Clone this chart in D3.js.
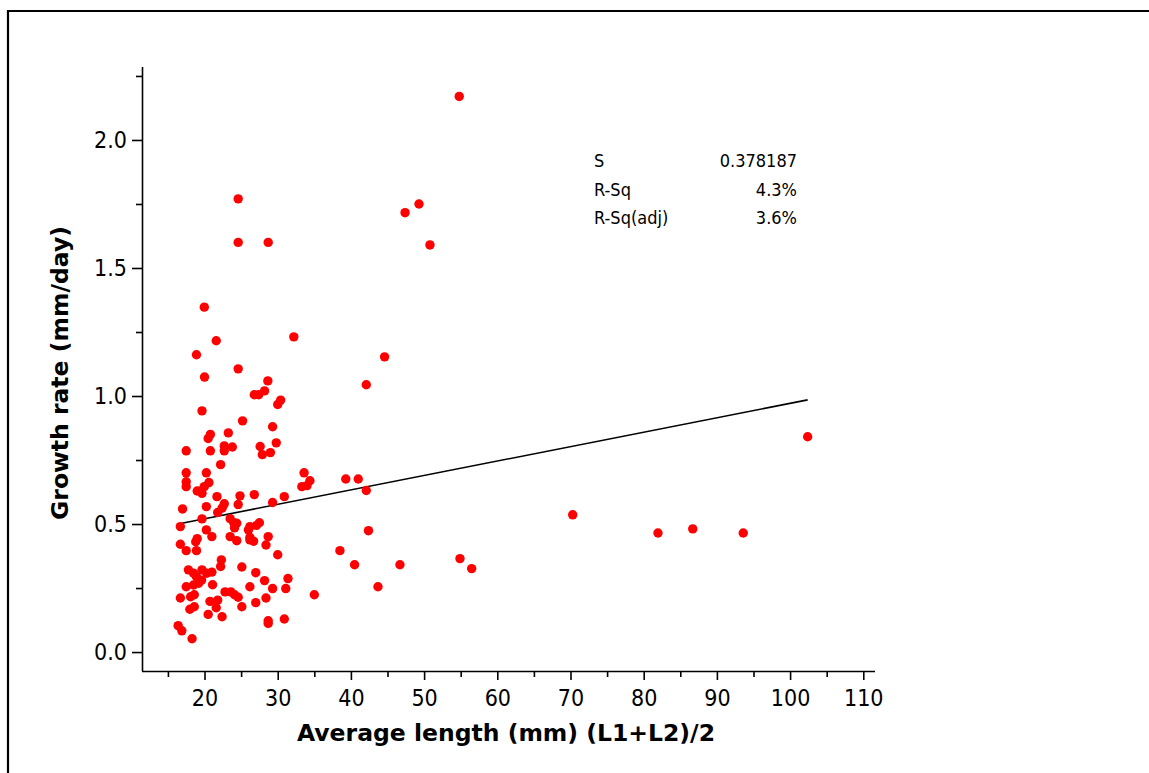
<!DOCTYPE html>
<html>
<head>
<meta charset="utf-8">
<script src="https://cdn.jsdelivr.net/npm/d3@7"></script>
<style>
  html, body { margin: 0; padding: 0; background: #fff; }
  svg text { fill: #000; }
  .cond { font-family: "DejaVu Sans Condensed", "DejaVu Sans", sans-serif; font-stretch: condensed; }
  .title { font-family: "DejaVu Sans", sans-serif; font-weight: bold; font-size: 23.5px; }
</style>
</head>
<body>
<svg id="chart" width="1149" height="773"></svg>
<script>
// average length (mm)
var lengthMm = [
  54.8, 24.6, 24.6, 28.7, 47.4, 49.3, 50.8, 19.97, 21.6, 32.2, 18.9, 44.6, 24.6, 20.0, 42.1,
  28.65, 28.2, 26.8, 27.4, 30.4, 30.0, 19.66, 25.2, 29.3, 23.25, 20.8, 20.5, 29.8, 22.7, 23.8,
  22.7, 27.6, 17.5, 20.8, 27.9, 29.0, 22.2, 17.5, 20.25, 33.6, 17.5, 17.5, 20.6, 19.97, 19.5,
  19.0, 19.66, 34.4, 34.0, 33.3, 21.7, 24.85, 24.6, 26.8, 30.9, 29.3, 22.7, 22.4, 21.8, 20.25,
  17.0, 19.66, 23.5, 24.0, 24.4, 24.1, 27.5, 27.1, 26.2, 26.0, 16.7, 20.25, 21.0, 19.0, 18.8,
  23.5, 24.4, 26.2, 26.7, 26.2, 28.7, 28.4, 16.7, 17.5, 18.9, 30.0, 38.5, 22.3, 22.2, 25.1,
  17.8, 18.5, 19.66, 20.3, 21.0, 27.0, 28.2, 31.4, 18.9, 19.6, 19.2, 18.5, 17.5, 21.1, 26.2,
  29.3, 31.1, 35.0, 22.8, 23.6, 24.1, 24.6, 25.1, 18.6, 18.1, 16.7, 28.4, 20.75, 21.8, 21.6,
  27.0, 18.6, 18.0, 20.5, 22.4, 28.7, 28.7, 30.9, 16.4, 16.9, 18.3,
  39.3, 41.0, 42.1, 42.4, 40.5, 46.7, 54.9, 56.5, 43.7,
  70.3, 81.95, 86.7, 93.6, 102.4
];
// growth rate (mm/day), same order
var growthRate = [
  2.17, 1.77, 1.60, 1.60, 1.716, 1.75, 1.59, 1.347, 1.216, 1.231, 1.161, 1.153, 1.106, 1.074, 1.044,
  1.059, 1.020, 1.005, 1.005, 0.984, 0.967, 0.942, 0.903, 0.880, 0.856, 0.850, 0.834, 0.817, 0.805, 0.801,
  0.786, 0.803, 0.786, 0.786, 0.771, 0.779, 0.732, 0.700, 0.700, 0.700, 0.665, 0.646, 0.662, 0.646, 0.629,
  0.629, 0.620, 0.669, 0.650, 0.646, 0.607, 0.610, 0.576, 0.615, 0.607, 0.584, 0.579, 0.562, 0.545, 0.568,
  0.559, 0.520, 0.521, 0.505, 0.503, 0.485, 0.505, 0.495, 0.490, 0.477, 0.490, 0.477, 0.451, 0.443, 0.431,
  0.451, 0.435, 0.448, 0.433, 0.438, 0.451, 0.418, 0.421, 0.396, 0.396, 0.380, 0.396, 0.360, 0.334, 0.332,
  0.321, 0.308, 0.321, 0.308, 0.312, 0.310, 0.279, 0.287, 0.294, 0.281, 0.269, 0.262, 0.255, 0.263, 0.255,
  0.248, 0.248, 0.224, 0.235, 0.235, 0.224, 0.214, 0.177, 0.224, 0.216, 0.211, 0.211, 0.198, 0.203, 0.173,
  0.193, 0.177, 0.167, 0.147, 0.138, 0.122, 0.112, 0.129, 0.103, 0.083, 0.052,
  0.676, 0.676, 0.631, 0.474, 0.341, 0.341, 0.365, 0.326, 0.255,
  0.536, 0.465, 0.481, 0.465, 0.841
];
// fitted line, endpoints
var fitX = [16.9, 102.4];
var fitY = [0.503, 0.985];

var xMajor = [20, 30, 40, 50, 60, 70, 80, 90, 100, 110];
var xMinor = [15, 25, 35, 45, 55, 65, 75, 85, 95, 105];
var yMajor = [0.0, 0.5, 1.0, 1.5, 2.0];
var yMinor = [0.25, 0.75, 1.25, 1.75, 2.25];

var statLabels = ["S", "R-Sq", "R-Sq(adj)"];
var statValues = ["0.378187", "4.3%", "3.6%"];

var svg = d3.select("#chart");

// outer frame (only top and left edges are visible)
svg.append("path")
  .attr("d", "M8,773 L8,11 L1149,11")
  .attr("fill", "none")
  .attr("stroke", "#000")
  .attr("stroke-width", 2.2);

var x = d3.scaleLinear().domain([11.46, 111.6]).range([142, 875]);
var y = d3.scaleLinear().domain([-0.074, 2.285]).range([671, 67]);

var xAxis = svg.append("g").attr("transform", "translate(0,671)")
  .call(d3.axisBottom(x).tickValues(xMajor).tickSize(9).tickPadding(10).tickFormat(d3.format("d")));
svg.append("g").attr("transform", "translate(0,671)")
  .call(d3.axisBottom(x).tickValues(xMinor).tickSize(6).tickFormat(""))
  .select(".domain").remove();

var yAxis = svg.append("g").attr("transform", "translate(142,0)")
  .call(d3.axisLeft(y).tickValues(yMajor).tickSize(10).tickPadding(5).tickFormat(d3.format(".1f")));
svg.append("g").attr("transform", "translate(142,0)")
  .call(d3.axisLeft(y).tickValues(yMinor).tickSize(6).tickFormat(""))
  .select(".domain").remove();

xAxis.select(".domain").attr("d", "M142,0.5H875");
yAxis.select(".domain").attr("d", "M0.5,67V671");

svg.selectAll(".tick line, .domain").attr("stroke", "#000").attr("stroke-width", 1.6);
svg.selectAll(".tick text")
  .attr("class", "cond")
  .style("font-size", "23px")
  .attr("fill", "#000");

// axis titles
svg.append("text")
  .attr("class", "title")
  .attr("x", 506).attr("y", 741)
  .attr("text-anchor", "middle")
  .text("Average length (mm) (L1+L2)/2");

svg.append("text")
  .attr("class", "title")
  .attr("transform", "translate(68,373) rotate(-90)")
  .attr("text-anchor", "middle")
  .text("Growth rate (mm/day)");

// fit line
var pts = fitX.map(function(d, i){ return [d, fitY[i]]; });
svg.append("path")
  .datum(pts)
  .attr("fill", "none")
  .attr("stroke", "#000")
  .attr("stroke-width", 1.6)
  .attr("d", d3.line().x(function(d){ return x(d[0]); }).y(function(d){ return y(d[1]); }));

// points
svg.append("g").selectAll("circle")
  .data(lengthMm)
  .enter().append("circle")
  .attr("cx", function(d){ return x(d); })
  .attr("cy", function(d, i){ return y(growthRate[i]); })
  .attr("r", 4.7)
  .attr("fill", "#ff0000");

// summary stats
var stats = svg.append("g");
stats.selectAll(".slab").data(statLabels).enter().append("text")
  .attr("class", "cond")
  .attr("x", 594).attr("y", function(d, i){ return 167 + i * 28.5; })
  .style("font-size", "18px")
  .text(function(d){ return d; });
stats.selectAll(".sval").data(statValues).enter().append("text")
  .attr("class", "cond")
  .attr("x", 797).attr("y", function(d, i){ return 167 + i * 28.5; })
  .attr("text-anchor", "end")
  .style("font-size", "18px")
  .text(function(d){ return d; });
</script>
</body>
</html>
